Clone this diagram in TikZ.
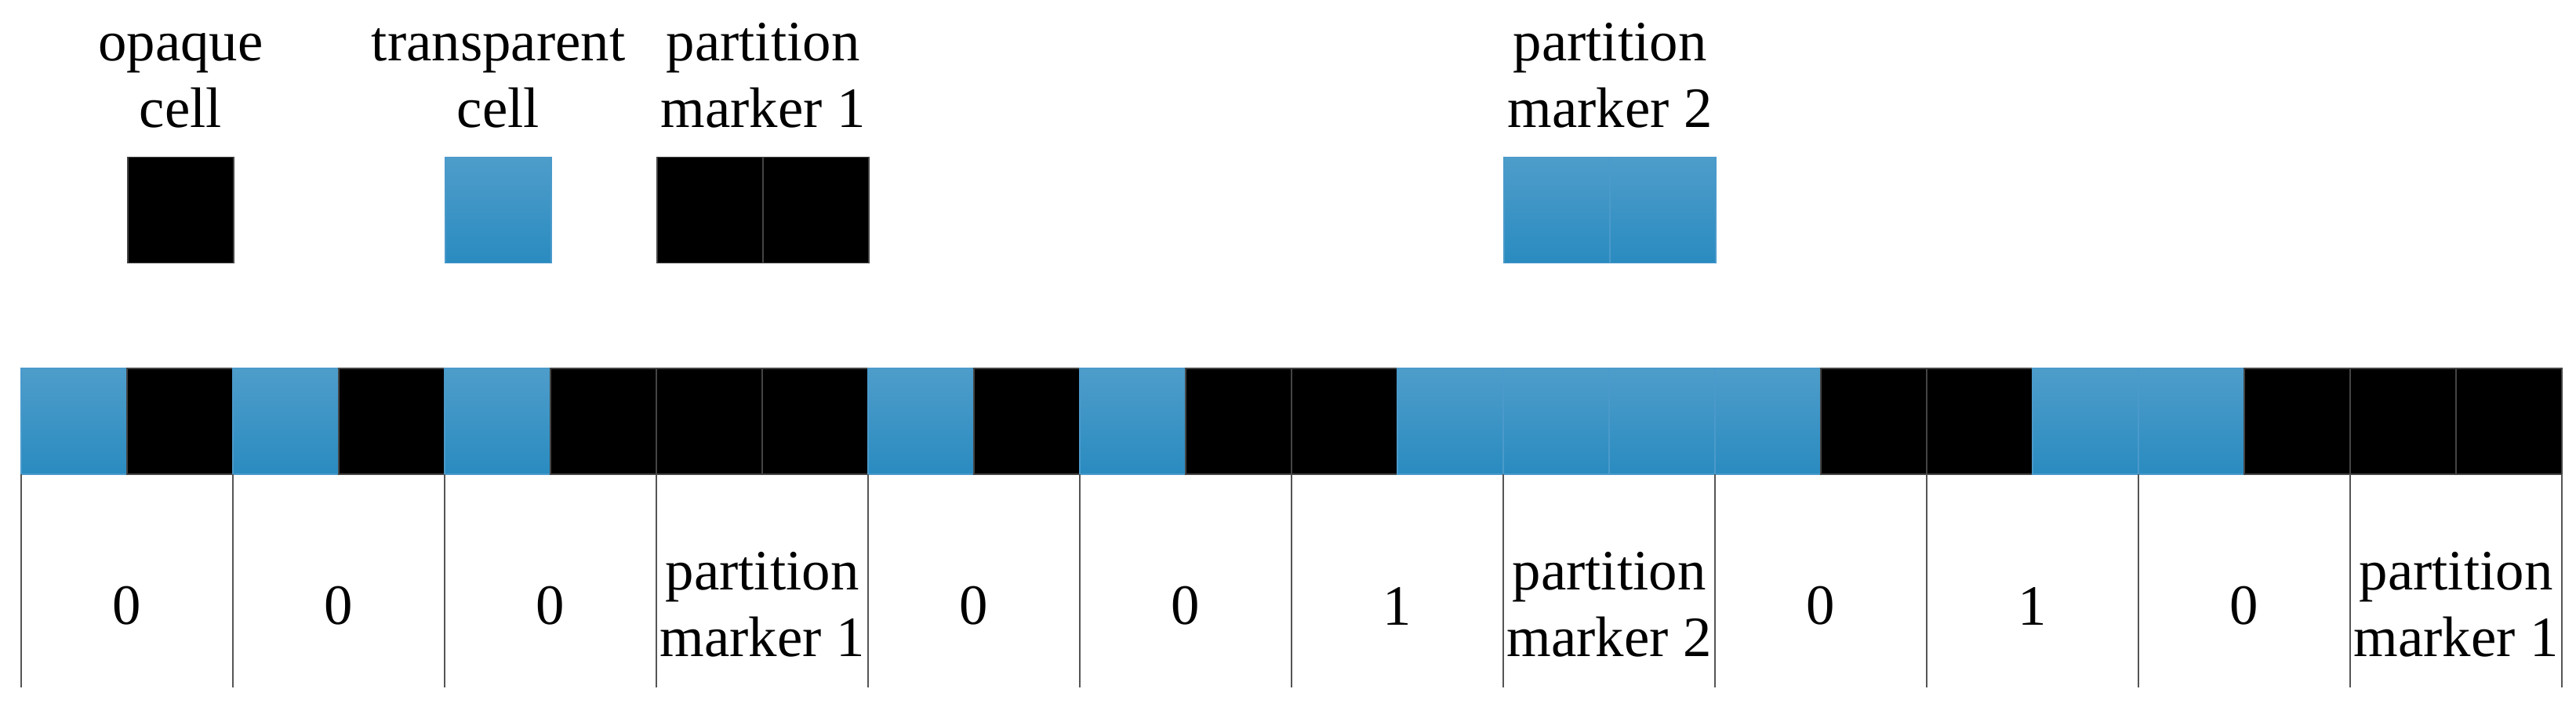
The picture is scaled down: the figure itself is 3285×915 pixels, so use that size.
\documentclass[tikz,border=0pt]{standalone}
\usepackage{fontspec}
\setmainfont{Liberation Serif}
\definecolor{blueTop}{HTML}{4E9DCA}
\definecolor{blueBot}{HTML}{2A8BC0}
\definecolor{blueEdge}{HTML}{4A9ACB}
\definecolor{edgeGray}{HTML}{444444}
\definecolor{sepGray}{HTML}{555555}
\tikzset{
  cellbase/.style={rectangle, inner sep=0pt, outer sep=0pt, minimum width=33.75pt, minimum height=33.75pt, line width=0.4pt},
  cellB/.style={cellbase, top color=blueTop, bottom color=blueBot, draw=blueEdge},
  cellK/.style={cellbase, fill=black, draw=edgeGray},
  lbl/.style={align=center, inner sep=0pt, outer sep=0pt, font=\fontsize{18.2}{21.3}\selectfont},
  sep/.style={draw=sepGray, line width=0.45pt}
}
\begin{document}
\begin{tikzpicture}[x=0.25pt, y=-0.25pt]
\useasboundingbox (0,0) rectangle (3285,915);
\fill[white] (0,0) rectangle (3285,915);
% legend
\node[cellK] (lo) at (230.5,268) {};
\node[cellB] (lt) at (635.5,268) {};
\node[cellK] (lp1a) at (905.5,268) {};
\node[cellK] (lp1b) at (1040.5,268) {};
\node[cellB] (lp2a) at (1985.5,268) {};
\node[cellB] (lp2b) at (2120.5,268) {};
\node[lbl, anchor=south] (to) at (230.5,163) {opaque\\cell};
\node[lbl, anchor=south] (tt) at (635.5,163) {transparent\\cell};
\node[lbl, anchor=south] (tp1) at (973,163) {partition\\marker 1};
\node[lbl, anchor=south] (tp2) at (2053,163) {partition\\marker 2};
% cell row
\foreach \t [count=\i from 0] in {B,K,B,K,B,K,K,K,B,K,B,K,K,B,B,B,B,K,K,B,B,K,K,K}{
  \node[cell\t] (c\i) at ({94.5+135*\i},537.5) {};
}
% separators
\foreach \i in {0,2,...,22}{
  \coordinate (s\i) at ([yshift=-68pt]c\i.south west);
  \draw[sep] (c\i.south west) -- (s\i);
}
\coordinate (s24) at ([yshift=-68pt]c23.south east);
\draw[sep] (c23.south east) -- (s24);
% labels
\foreach \g/\v in {0/0,1/0,2/0,4/0,5/0,6/1,8/0,9/1,10/0}{
  \node[lbl, anchor=south] (v\g) at ({162+270*\g},797) {\v};
}
\node[lbl, anchor=south] (v3) at (972,838) {partition\\marker 1};
\node[lbl, anchor=south] (v7) at (2052,838) {partition\\marker 2};
\node[lbl, anchor=south] (v11) at (3132,838) {partition\\marker 1};
\end{tikzpicture}
\end{document}
